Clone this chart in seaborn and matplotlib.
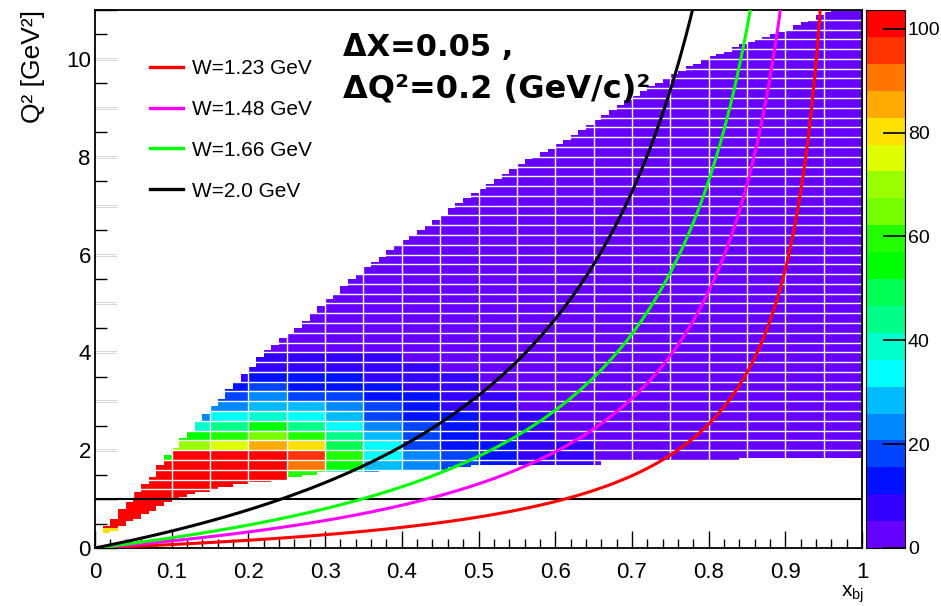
import numpy as np
import matplotlib
matplotlib.use("Agg")
import matplotlib.pyplot as plt
from matplotlib.colors import ListedColormap
from matplotlib.ticker import FixedLocator, MultipleLocator, FuncFormatter
import seaborn as sns

# ------------------------------------------------------------------ data
W_values = [1.23, 1.48, 1.66, 2.0]
W_labels = ["W=1.23 GeV", "W=1.48 GeV", "W=1.66 GeV", "W=2.0 GeV"]
W_colors = ["#ff0000", "#ff00ff", "#00ff00", "#000000"]
proton_mass = 0.938

# fine histogram binning (x_bj : 0.01, Q2 : 0.05)
x_bin_edges = np.linspace(0.0, 1.0, 101)
q2_bin_edges = np.linspace(0.0, 11.0, 221)

# upper / lower Q2 edge of the populated region, one value per x-bin
q2_upper = [0.00, 0.47, 0.62, 0.80, 0.96, 1.14, 1.29, 1.46, 1.70, 1.89,
            2.07, 2.25, 2.42, 2.58, 2.73, 2.89, 3.06, 3.23, 3.40, 3.56,
            3.72, 3.88, 4.04, 4.17, 4.28, 4.39, 4.52, 4.65, 4.79, 4.95,
            5.08, 5.22, 5.35, 5.48, 5.61, 5.73, 5.85, 5.96, 6.08, 6.19,
            6.30, 6.41, 6.52, 6.62, 6.72, 6.82, 6.93, 7.04, 7.15, 7.26,
            7.37, 7.47, 7.57, 7.66, 7.76, 7.85, 7.93, 8.01, 8.09, 8.17,
            8.26, 8.36, 8.46, 8.55, 8.65, 8.74, 8.85, 8.96, 9.06, 9.16,
            9.25, 9.34, 9.43, 9.52, 9.61, 9.70, 9.77, 9.84, 9.91, 9.98,
            10.05, 10.11, 10.17, 10.23, 10.29, 10.35, 10.40, 10.46, 10.51, 10.57,
            10.62, 10.69, 10.75, 10.82, 10.88, 10.95, 11.02, 11.09, 11.16, 11.23]
q2_lower = [9.99, 0.28, 0.35, 0.44, 0.53, 0.61, 0.68, 0.77, 0.86, 0.95,
            1.02, 1.06, 1.10, 1.13, 1.17, 1.21, 1.23, 1.26, 1.29, 1.32,
            1.34, 1.36, 1.37, 1.39, 1.41, 1.43, 1.46, 1.48, 1.51, 1.53,
            1.55, 1.56, 1.56, 1.57, 1.57, 1.57, 1.57, 1.58, 1.58, 1.58,
            1.59, 1.60, 1.60, 1.61, 1.61, 1.62, 1.63, 1.65, 1.67, 1.69,
            1.70, 1.70, 1.70, 1.70, 1.70, 1.70, 1.70, 1.70, 1.70, 1.70,
            1.70, 1.70, 1.70, 1.70, 1.70, 1.70, 1.78, 1.78, 1.78, 1.78,
            1.78, 1.78, 1.78, 1.78, 1.78, 1.78, 1.78, 1.78, 1.78, 1.78,
            1.78, 1.78, 1.78, 1.78, 1.83, 1.83, 1.83, 1.83, 1.83, 1.83,
            1.83, 1.83, 1.83, 1.83, 1.83, 1.83, 1.83, 1.83, 1.83, 1.83]

# counts per (dQ2=0.2) x (dX=0.05) box in the low-x / low-Q2 corner
count_x_edges = [0.00, 0.05, 0.10, 0.15, 0.20, 0.25, 0.30, 0.35, 0.40,
                 0.45, 0.50, 0.55, 0.60, 0.65]
count_q2_edges = [0.0, 0.2, 0.4, 0.6, 0.8, 1.0, 1.2, 1.4, 1.6, 1.8, 2.0,
                  2.2, 2.4, 2.6, 2.8, 3.0, 3.2, 3.4, 3.6, 3.8, 4.0, 4.2, 4.4]
count_table = [
    [60, 120, 120, 120, 120, 90, 55, 30, 22, 16, 12, 9, 6],   # 0.0
    [80, 120, 120, 120, 120, 90, 55, 30, 22, 16, 12, 9, 6],   # 0.2
    [120, 120, 120, 120, 120, 90, 55, 30, 22, 16, 12, 9, 6],  # 0.4
    [120, 120, 120, 120, 120, 90, 55, 30, 22, 16, 12, 9, 6],  # 0.6
    [120, 120, 120, 120, 120, 90, 55, 30, 22, 16, 12, 9, 6],  # 0.8
    [120, 120, 120, 120, 120, 90, 55, 30, 22, 16, 12, 9, 6],  # 1.0
    [120, 120, 120, 120, 120, 90, 55, 30, 22, 16, 12, 9, 6],  # 1.2
    [120, 120, 120, 120, 120, 60, 40, 25, 22, 16, 12, 9, 6],  # 1.4
    [120, 120, 120, 120, 120, 90, 55, 30, 22, 16, 12, 9, 6],  # 1.6
    [120, 54, 110, 100, 100, 95, 60, 33, 22, 17, 13, 9, 6],   # 1.8
    [3, 3, 70, 75, 85, 80, 50, 32, 20, 15, 12, 8, 6],         # 2.0
    [3, 3, 54, 60, 65, 62, 42, 27, 17, 13, 10, 7, 4],         # 2.2
    [3, 3, 39, 44, 52, 45, 33, 23, 16, 12, 9, 6, 3],          # 2.4
    [3, 3, 23, 34, 38, 34, 27, 19, 15, 11, 8, 6, 3],          # 2.6
    [3, 3, 15, 23, 28, 26, 22, 16, 12, 9, 7, 4, 3],           # 2.8
    [3, 3, 3, 18, 23, 20, 17, 13, 11, 8, 6, 3, 3],            # 3.0
    [3, 3, 3, 13, 18, 15, 14, 12, 10, 7, 4, 3, 3],            # 3.2
    [3, 3, 3, 8, 13, 11, 12, 9, 8, 6, 3, 3, 3],               # 3.4
    [3, 3, 3, 3, 9, 8, 9, 7, 7, 4, 3, 3, 3],                  # 3.6
    [3, 3, 3, 3, 7, 6, 7, 6, 5, 3, 3, 3, 3],                  # 3.8
    [3, 3, 3, 3, 5, 4, 5, 4, 3, 3, 3, 3, 3],                  # 4.0
    [3, 3, 3, 3, 3, 3, 3, 3, 3, 3, 3, 3, 3],                  # 4.2
]
base_count = 3

z_max = 103.6
palette_colors = ["#6600ff", "#3300ff", "#0011ff", "#0044ff", "#0088ff",
                  "#00bbff", "#00ffff", "#00ffcc", "#00ff88", "#00ff55",
                  "#00ff00", "#22ff00", "#77ff00", "#99ff00", "#ddff00",
                  "#ffe000", "#ffaa00", "#ff7700", "#ff3300", "#ff0000"]
cbar_ticks = [0, 20, 40, 60, 80, 100]
x_tick_values = [0, 0.1, 0.2, 0.3, 0.4, 0.5, 0.6, 0.7, 0.8, 0.9, 1.0]

# ------------------------------------------------------------ build cells
xc = 0.5 * (x_bin_edges[:-1] + x_bin_edges[1:])
qc = 0.5 * (q2_bin_edges[:-1] + q2_bin_edges[1:])
X, Q = np.meshgrid(xc, qc, indexing="ij")
lo = np.asarray(q2_lower)[:, None]
hi = np.asarray(q2_upper)[:, None]
inside = (Q >= lo) & (Q <= hi)

tab = np.asarray(count_table, dtype=float)
ci = np.searchsorted(count_x_edges, X, side="right") - 1
ri = np.searchsorted(count_q2_edges, Q, side="right") - 1
valid = (ci < tab.shape[1]) & (ri < tab.shape[0])
vals = np.where(valid, tab[np.minimum(ri, tab.shape[0] - 1),
                           np.minimum(ci, tab.shape[1] - 1)], base_count)

cells_x = X[inside]
cells_q = Q[inside]
cells_w = vals[inside]

# ------------------------------------------------------------------ style
plt.rcParams["font.family"] = ["Liberation Sans", "DejaVu Sans"]
plt.rcParams["mathtext.fontset"] = "custom"
plt.rcParams["mathtext.rm"] = "Liberation Sans"

fig = plt.figure(figsize=(9.41, 6.06), dpi=100)
W_px, H_px = 941.0, 606.0
ax = fig.add_axes([95 / W_px, 1 - 548 / H_px, 767 / W_px, 538 / H_px])
cax = fig.add_axes([866 / W_px, 1 - 548 / H_px, 39 / W_px, 538 / H_px])

cmap = ListedColormap(palette_colors)

sns.histplot(x=cells_x, y=cells_q, weights=cells_w,
             bins=[x_bin_edges, q2_bin_edges], cmap=cmap,
             vmin=0, vmax=z_max, cbar=True, cbar_ax=cax,
             cbar_kws={"ticks": cbar_ticks}, ax=ax, zorder=1)

# white box grid (dX = 0.05, dQ2 = 0.2)
ax.vlines(np.arange(0.05, 0.999, 0.05), 1.0, 11.0, colors="white",
          linewidth=1.0, zorder=1.6)
ax.hlines(np.arange(1.2, 10.99, 0.2), 0.0, 1.0, colors="white",
          linewidth=1.0, zorder=1.6)

# Q2 = 1 line
ax.axhline(1.0, color="black", lw=1.5, zorder=2)

# constant-W curves
for W, lab, col in zip(W_values, W_labels, W_colors):
    dW2 = W ** 2 - proton_mass ** 2
    x_top = 11.6 / (11.6 + dW2)
    xs = np.linspace(0.0, x_top, 400)
    qs = dW2 * xs / (1 - xs)
    sns.lineplot(x=xs, y=qs, color=col, lw=2.2, label=lab, ax=ax,
                 sort=False, estimator=None, zorder=3)

ax.set_xlim(0, 1)
ax.set_ylim(0, 11)

# axes styling (ROOT-like)
for sp in ax.spines.values():
    sp.set_linewidth(1.3)
    sp.set_color("black")
ax.xaxis.set_major_locator(FixedLocator(x_tick_values))
ax.xaxis.set_minor_locator(MultipleLocator(0.02))
ax.xaxis.set_major_formatter(FuncFormatter(lambda v, p: f"{v:g}"))
ax.yaxis.set_major_locator(MultipleLocator(1))
ax.yaxis.set_minor_locator(MultipleLocator(0.5))
ax.yaxis.set_major_formatter(
    FuncFormatter(lambda v, p: f"{int(round(v))}" if int(round(v)) % 2 == 0 else ""))
ax.tick_params(axis="both", which="both", direction="in", top=False,
               right=False, colors="black", labelsize=16)
ax.tick_params(axis="x", which="major", length=12, width=1.0, pad=10)
ax.tick_params(axis="x", which="minor", length=6.5, width=1.0)
ax.tick_params(axis="y", which="major", length=16, width=1.0, pad=3)
ax.tick_params(axis="y", which="minor", length=8.5, width=1.0)

ax.set_xlabel("x$_{\\mathregular{bj}}$", fontsize=15, loc="right")
ax.xaxis.set_label_coords(1.003, -0.065)
ax.set_ylabel("Q² [GeV²]", fontsize=19, loc="top", labelpad=15)

# colour bar styling
cax.tick_params(axis="y", direction="in", length=16, width=1.2,
                labelsize=14, pad=2, right=True, left=False)
cax.yaxis.set_ticks_position("right")
cax.minorticks_off()
for sp in cax.spines.values():
    sp.set_linewidth(0.8)

# legend
handles, labels = ax.get_legend_handles_labels()
leg = ax.legend(handles, labels, loc="upper left",
                bbox_to_anchor=(150 / W_px, 1 - 59 / H_px),
                bbox_transform=fig.transFigure, frameon=False, fontsize=15,
                handlelength=1.6, handletextpad=0.4, labelspacing=1.05,
                borderpad=0, borderaxespad=0)
for ln in leg.get_lines():
    ln.set_linewidth(2.4)

# annotation
fig.text(343 / W_px, 1 - 56 / H_px, "ΔX=0.05 ,", fontsize=22,
         fontweight="bold", family=["DejaVu Sans"], va="baseline", ha="left")
fig.text(343 / W_px, 1 - 98 / H_px, "ΔQ²=0.2 (GeV/c)²", fontsize=23,
         fontweight="bold", family=["DejaVu Sans"], va="baseline", ha="left")

fig.savefig("out.png", dpi=100)
